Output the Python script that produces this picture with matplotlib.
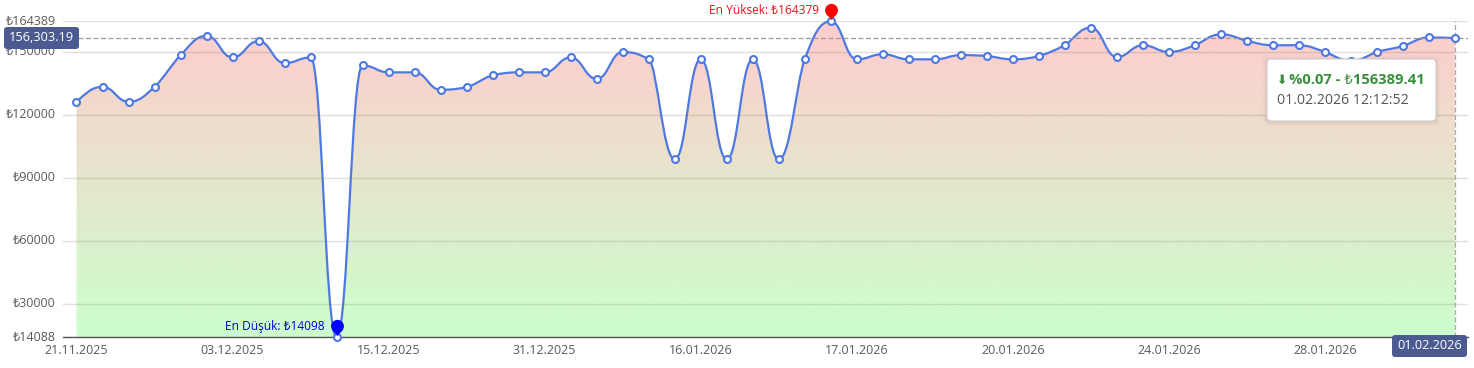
import numpy as np
import matplotlib
matplotlib.use('Agg')
import matplotlib.pyplot as plt
from matplotlib.colors import LinearSegmentedColormap
from matplotlib.patches import FancyBboxPatch, PathPatch
from matplotlib.path import Path
from matplotlib.transforms import ScaledTranslation

plt.rcParams['font.family'] = ['Open Sans', 'Noto Sans', 'DejaVu Sans']

# values, one per point
prices = [126100, 133200, 126100, 133200, 148200, 157500, 147200, 155000, 144500, 147200,
          14088, 143400, 140100, 140100, 131800, 133100, 138700, 140100, 140100, 147200,
          137000, 149800, 146300, 98700, 146300, 98700, 146300, 98700, 146300, 164389,
          146300, 148700, 146300, 146300, 148300, 147900, 146300, 147900, 153100, 161400,
          147400, 153000, 149800, 153000, 158200, 155100, 153000, 153000, 149800, 145500,
          149800, 152600, 156700, 156389]
date_ticks = ['21.11.2025', '03.12.2025', '15.12.2025', '31.12.2025', '16.01.2026',
              '17.01.2026', '20.01.2026', '24.01.2026', '28.01.2026']
date_positions = [0, 6, 12, 18, 24, 30, 36, 42, 48]
price_ticks = [14088, 30000, 60000, 90000, 120000, 150000, 164389]
cursor_price = 156303.19
low_index, high_index, last_index = 10, 29, 53

LINE = '#4f79e2'
BADGE = '#4b5b91'
TEXT = '#5a5a5a'


def monotone_curve(x, y):
    # monotone x tangents as bezier segments, flat ends get a longer handle
    x = np.asarray(x, float)
    y = np.asarray(y, float)
    s = np.diff(y) / np.diff(x)
    t = np.zeros(len(x))
    for i in range(1, len(x) - 1):
        p = (s[i - 1] + s[i]) / 2
        t[i] = (np.sign(s[i - 1]) + np.sign(s[i])) * min(abs(s[i - 1]), abs(s[i]), 0.5 * abs(p))
    t[0] = (3 * s[0] - t[1]) / 2
    t[-1] = (3 * s[-1] - t[-2]) / 2
    verts = [(x[0], y[0])]
    for i in range(len(x) - 1):
        h = x[i + 1] - x[i]
        dx0 = h * 0.45 if t[i] == 0 else h / 3
        dx1 = h * 0.45 if t[i + 1] == 0 else h / 3
        verts.append((x[i] + dx0, y[i] + dx0 * t[i]))
        verts.append((x[i + 1] - dx1, y[i + 1] - dx1 * t[i + 1]))
        verts.append((x[i + 1], y[i + 1]))
    codes = [Path.MOVETO] + [Path.CURVE4] * (len(verts) - 1)
    return verts, codes


def pin_marker():
    circle = Path.unit_circle()
    head = Path(circle.vertices * 6.4 + [0, 11.2], circle.codes)
    tip = Path([(-5, 7.4), (0, 1.5), (5, 7.4), (-5, 7.4)],
               [Path.MOVETO, Path.LINETO, Path.LINETO, Path.CLOSEPOLY])
    return Path.make_compound_path(head, tip)


fig = plt.figure(figsize=(14.74, 3.68), dpi=100)
ax = fig.add_axes([63 / 1474, 1 - 337.3 / 368, 1405 / 1474, 316 / 368])

x = np.arange(len(prices))
verts, codes = monotone_curve(x, prices)

# area under the line, red at the top to green at the bottom
ymin, ymax = price_ticks[0], price_ticks[-1]
area = PathPatch(Path(verts + [(last_index, ymin), (0, ymin), (0, ymin)],
                      codes + [Path.LINETO, Path.LINETO, Path.CLOSEPOLY]),
                 transform=ax.transData, facecolor='none', edgecolor='none')
ax.add_patch(area)
cmap = LinearSegmentedColormap.from_list('fill', [(0, 1, 0, 0.2), (1, 0, 0, 0.2)])
img = ax.imshow(np.linspace(0, 1, 256)[:, None], cmap=cmap, origin='lower', aspect='auto',
                extent=(0, last_index, ymin, ymax), zorder=2)
img.set_clip_path(area)

ax.add_patch(PathPatch(Path(verts, codes), facecolor='none', edgecolor=LINE, lw=1.6, zorder=3))
ax.plot(x, prices, ls='none', marker='o', ms=5, mfc='white', mec=LINE, mew=1.5, zorder=4,
        clip_on=False)

ax.set_xlim(-0.519, 53.5)
ax.set_ylim(ymin, ymax)

ax.set_yticks(price_ticks)
ax.set_yticklabels(['₺%d' % v for v in price_ticks])
ax.set_xticks(date_positions)
ax.set_xticklabels(date_ticks)
ax.tick_params(axis='both', length=0, labelsize=9, labelcolor=TEXT)
ax.tick_params(axis='y', pad=5.5)
ax.tick_params(axis='x', pad=5)
for lab in ax.get_yticklabels():
    lab.set_transform(lab.get_transform() + ScaledTranslation(0, 1.5 / 100, fig.dpi_scale_trans))
ax.grid(True, axis='y', color='#e0e0e0', lw=1, zorder=1)
ax.set_axisbelow(True)
for side in ['top', 'left', 'right']:
    ax.spines[side].set_visible(False)
ax.spines['bottom'].set_color('#555555')
ax.spines['bottom'].set_linewidth(1)

# crosshair
ax.axhline(cursor_price, color='#999999', lw=0.9, ls=(0, (4, 2)), zorder=3)
ax.axvline(last_index, color='#aaaaaa', lw=0.9, ls=(0, (4, 2)), zorder=3)

# min and max pins
ax.plot([high_index], [prices[high_index]], marker=pin_marker(), ms=25.4, color='#ff0000',
        mew=0, zorder=6, clip_on=False)
ax.plot([low_index], [prices[low_index]], marker=pin_marker(), ms=25.4, color='#0000ff',
        mew=0, zorder=6, clip_on=False)

# overlay in pixels for the boxes and the labels beside the pins
ov = fig.add_axes([0, 0, 1, 1], zorder=10)
ov.set_xlim(0, 1474)
ov.set_ylim(368, 0)
ov.axis('off')


def badge(x0, y0, w, h, label):
    ov.add_patch(FancyBboxPatch((x0 + 2, y0 + 2), w - 4, h - 4, boxstyle='round,pad=2,rounding_size=3',
                                fc=BADGE, ec='none'))
    ov.text(x0 + w / 2, y0 + h / 2 - 0.5, label, color='white', fontsize=9.2, ha='center', va='center')


badge(4, 27, 75, 22, '156,303.19')
badge(1392, 335, 75, 22, '01.02.2026')

ov.text(819, 10.5, 'En Yüksek: ₺164379', color='#e8101c', fontsize=8.6, ha='right', va='center')
ov.text(324.5, 326.5, 'En Düşük: ₺14098', color='#0000dd', fontsize=8.6, ha='right', va='center')

# tooltip with a soft shadow
for grow, alpha in [(5, 0.012), (3, 0.02), (1.5, 0.03)]:
    ov.add_patch(FancyBboxPatch((1271 - grow, 64 - grow), 161 + 2 * grow, 54 + 2 * grow,
                                boxstyle='round,pad=4,rounding_size=4', fc='black', ec='none',
                                alpha=alpha))
ov.add_patch(FancyBboxPatch((1271, 63), 161, 54, boxstyle='round,pad=4,rounding_size=4',
                            fc='white', ec='#cccccc', lw=0.8))
ov.text(1276.5, 80, '⬇', color='#3a8f3e', fontsize=9, fontweight='bold', ha='left', va='center')
ov.text(1289, 80, '%0.07 - ₺156389.41', color='#3a8f3e', fontsize=10.6, fontweight='bold',
        ha='left', va='center')
ov.text(1277, 101, '01.02.2026 12:12:52', color='#555555', fontsize=10.2, ha='left', va='center')

fig.savefig('out.png', dpi=100)
